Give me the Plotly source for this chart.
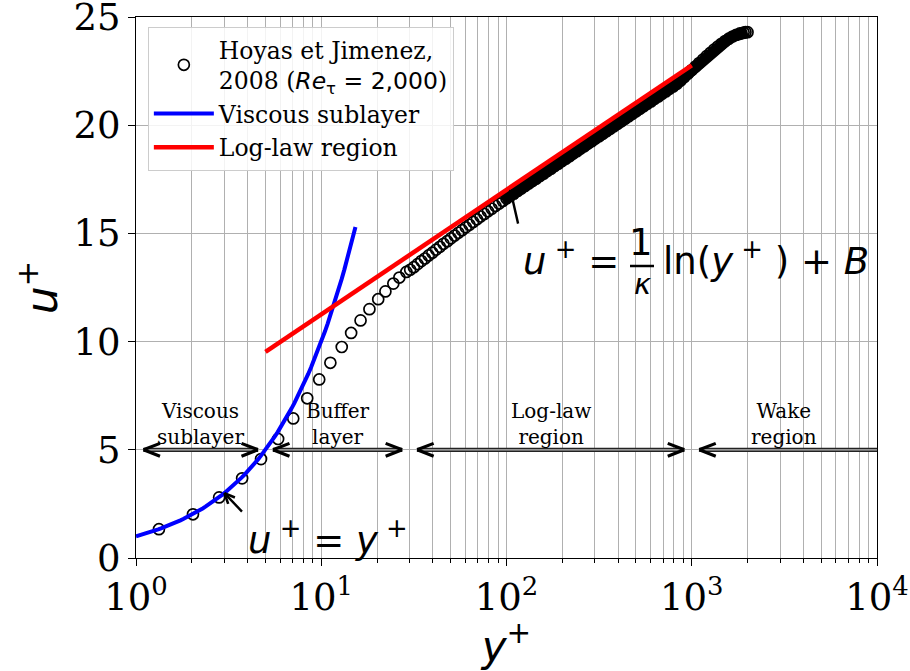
import numpy as np
import plotly.graph_objects as go

# ---------------- data ----------------
dns_yplus = [1.33, 2.03, 2.81, 3.74, 4.73, 5.85, 7.06, 8.40, 9.75, 11.2, 12.9, 14.5,
             16.3, 18.2, 20.3, 22.2, 24.5, 26.4, 28.8,
             30.2, 31.6, 33.1, 34.7, 36.3, 38.0, 39.8, 41.7, 43.7, 45.7, 47.9, 50.1,
             52.5, 55.0, 57.5, 60.3, 63.1, 66.1, 69.2, 72.4, 75.9, 79.4, 83.2,
             87.1, 91.2, 95.5, 100.0, 104.7, 109.6, 114.8, 120.2, 125.9, 131.8, 138.0,
             144.5, 151.4, 158.5, 166.0, 173.8, 182.0, 190.5, 199.5, 208.9, 218.8,
             229.1, 239.9, 251.2, 263.0, 275.4, 288.4, 302.0, 316.2, 331.1, 346.7,
             363.1, 380.2, 398.1, 416.9, 436.5, 457.1, 478.6, 501.2, 524.8, 549.5,
             575.4, 602.6, 631.0, 660.7, 691.8, 724.4, 758.6, 794.3,
             831.8, 871.0, 912.0, 955.0, 1000, 1047, 1096, 1148, 1202, 1259, 1318,
             1380, 1445, 1514, 1585, 1660, 1738, 1820, 1905, 1950, 2000]
dns_uplus = [1.33, 2.02, 2.80, 3.68, 4.57, 5.50, 6.45, 7.38, 8.25, 9.02, 9.75, 10.40,
             10.98, 11.50, 11.96, 12.32, 12.68, 12.96, 13.22,
             13.32, 13.44, 13.58, 13.72, 13.84, 13.98, 14.11, 14.25, 14.38, 14.52,
             14.64, 14.77, 14.90, 15.03, 15.15, 15.28, 15.40, 15.53, 15.65, 15.78,
             15.90, 16.02, 16.14,
             16.27, 16.38, 16.50, 16.61, 16.73, 16.84, 16.96, 17.07, 17.19, 17.30,
             17.42, 17.53, 17.65, 17.76, 17.88, 17.99, 18.11, 18.22, 18.34, 18.45,
             18.57, 18.69, 18.80, 18.92, 19.03, 19.15, 19.26, 19.38, 19.49, 19.61,
             19.72, 19.84, 19.95, 20.07, 20.18, 20.30, 20.41, 20.53, 20.64, 20.76,
             20.87, 20.99, 21.10, 21.22, 21.33, 21.45, 21.56, 21.68, 21.79,
             21.91, 22.07, 22.23, 22.39, 22.55, 22.71, 22.87, 23.03, 23.19, 23.34,
             23.49, 23.63, 23.76, 23.89, 24.00, 24.10, 24.18, 24.24, 24.28, 24.30, 24.30]

# wall laws
kappa = 0.4
B = 5.5
visc_range = [1.0, 15.3]
loglaw_range = [5.0, 1000.0]

# region boundaries and labels
region_bounds = [1, 5, 30, 1000, 10000]
region_labels = ["Viscous<br>sublayer", "Buffer<br>layer", "Log-law<br>region", "Wake<br>region"]
region_arrow_y = 5

xtick_vals = [1, 10, 100, 1000, 10000]
xtick_text = ["10<sup>0</sup>", "10<sup>1</sup>", "10<sup>2</sup>", "10<sup>3</sup>", "10<sup>4</sup>"]
xminor_vals = [k * 10 ** d for d in range(4) for k in range(2, 10)]
ytick_vals = [0, 5, 10, 15, 20, 25]

# where the DNS circles merge into a solid band
band_start = 95

# ---------------- derived curves ----------------
visc_y = np.logspace(np.log10(visc_range[0]), np.log10(visc_range[1]), 80)
visc_u = visc_y
log_y = np.logspace(np.log10(loglaw_range[0]), np.log10(loglaw_range[1]), 80)
log_u = np.log(log_y) / kappa + B
band_x = [y for y in dns_yplus if y >= band_start]
band_u = [u for y, u in zip(dns_yplus, dns_uplus) if y >= band_start]

# ---------------- layout geometry ----------------
W, H = 910, 671
ML, MR, MT, MB = 136, 33, 17, 113
PW, PH = W - ML - MR, H - MT - MB
PX_PER_DEC = PW / 4.0


def px2paper(px, py):
    return (px - ML) / PW, (H - MB - py) / PH


NB = "\u00a0"

fig = go.Figure()
fig.add_trace(go.Scatter(
    x=band_x, y=band_u, mode="lines", showlegend=False, hoverinfo="skip",
    line=dict(color="black", width=11.5),
))
fig.add_trace(go.Scatter(
    x=dns_yplus, y=dns_uplus, mode="markers",
    name="Hoyas et Jimenez,<br>2008 (<span style=\"font-family:DejaVu Sans\"><i>Re</i><sub>τ</sub> = 2,000</span>)",
    marker=dict(symbol="circle-open", size=11, color="black", line=dict(width=1.7, color="black")),
))
fig.add_trace(go.Scatter(x=visc_y, y=visc_u, mode="lines", name="Viscous sublayer",
                         line=dict(color="#0000ff", width=4)))
fig.add_trace(go.Scatter(x=log_y, y=log_u, mode="lines", name="Log-law region",
                         line=dict(color="#ff0000", width=4.5)))

annotations = []
shapes = []

# ---- region arrows ----
shrink = 7.5 / PX_PER_DEC
arm_dx, arm_dy = 18, 7


def chevron(xlog, y, pointing):
    # pointing = -1 : tip points left (arms go right)
    out = []
    for s in (-1, 1):
        out.append(dict(x=xlog, y=y, xref="x", yref="y", text="", showarrow=True,
                        arrowhead=0, arrowwidth=3.2, arrowcolor="black",
                        ax=-pointing * arm_dx, ay=s * arm_dy, axref="pixel", ayref="pixel"))
    return out


for i in range(4):
    a = np.log10(region_bounds[i]) + shrink
    b = np.log10(region_bounds[i + 1]) - shrink
    if i == 3:
        b = np.log10(region_bounds[i + 1])
    shapes.append(dict(type="line", xref="x", yref="y", x0=10 ** a, x1=10 ** b,
                       y0=region_arrow_y, y1=region_arrow_y,
                       line=dict(color="#222222", width=4.2), layer="above"))
    shapes.append(dict(type="line", xref="x", yref="y", x0=10 ** a, x1=10 ** b,
                       y0=region_arrow_y, y1=region_arrow_y,
                       line=dict(color="#bdbdbd", width=1.2), layer="above"))
    annotations += chevron(a, region_arrow_y, -1)
    if i < 3:
        annotations += chevron(b, region_arrow_y, 1)
    xm = 0.5 * (np.log10(region_bounds[i]) + np.log10(region_bounds[i + 1]))
    annotations.append(dict(x=xm, y=region_arrow_y, xref="x", yref="y", text=region_labels[i],
                            showarrow=False, yanchor="bottom", xanchor="center", yshift=-1,
                            font=dict(family="DejaVu Serif", size=20, color="black")))


# ---- pointer arrows for the formulas ----
def pointer(xdata, ydata, tail_dx, tail_dy, arm=13, ang=24):
    out = [dict(x=np.log10(xdata), y=ydata, xref="x", yref="y", text="", showarrow=True,
                arrowhead=0, arrowwidth=2.4, arrowcolor="black", ax=tail_dx, ay=tail_dy,
                axref="pixel", ayref="pixel")]
    L = np.hypot(tail_dx, tail_dy)
    ux, uy = tail_dx / L, tail_dy / L
    for s in (-1, 1):
        t = np.radians(s * ang)
        rx = ux * np.cos(t) - uy * np.sin(t)
        ry = ux * np.sin(t) + uy * np.cos(t)
        out.append(dict(x=np.log10(xdata), y=ydata, xref="x", yref="y", text="", showarrow=True,
                        arrowhead=0, arrowwidth=2.6, arrowcolor="black", ax=rx * arm, ay=ry * arm,
                        axref="pixel", ayref="pixel"))
    return out


annotations += pointer(3.0, 3.0, 19, 20)
annotations += pointer(105, 17.0, 8, 35)

mfont = dict(family="DejaVu Sans", size=37, color="black")
# u+ = y+
px, py = px2paper(246, 537)
annotations.append(dict(x=px, y=py, xref="paper", yref="paper", xanchor="left", yanchor="middle",
                        text="<i>u</i><sup>" + NB + "+</sup>" + NB + "=" + NB + "<i>y</i><sup>" + NB + "+</sup>",
                        showarrow=False, font=mfont))
# u+ = (1/kappa) ln(y+) + B
px, py = px2paper(521, 258)
annotations.append(dict(x=px, y=py, xref="paper", yref="paper", xanchor="left", yanchor="middle",
                        text="<i>u</i><sup>" + NB + "+</sup>" + NB + "=", showarrow=False, font=mfont))
px, py = px2paper(641, 242)
annotations.append(dict(x=px, y=py, xref="paper", yref="paper", xanchor="center", yanchor="middle",
                        text="1", showarrow=False, font=mfont))
px, py = px2paper(642, 284)
annotations.append(dict(x=px, y=py, xref="paper", yref="paper", xanchor="center", yanchor="middle",
                        text="<i>κ</i>", showarrow=False, font=dict(family="DejaVu Sans", size=29, color="black")))
x0p, yb = px2paper(630, 266)
x1p, _ = px2paper(654, 266)
shapes.append(dict(type="line", xref="paper", yref="paper", x0=x0p, x1=x1p, y0=yb, y1=yb,
                   line=dict(color="black", width=2.5), layer="above"))
px, py = px2paper(661, 258)
annotations.append(dict(x=px, y=py, xref="paper", yref="paper", xanchor="left", yanchor="middle",
                        text="ln(<i>y</i><sup>" + NB + "+</sup>" + NB + ")" + NB + "+" + NB + "<i>B</i>",
                        showarrow=False, font=mfont))

grid_c = "#b0b0b0"
tickfont = dict(family="DejaVu Serif", size=37, color="black")
fig.update_layout(
    width=W, height=H,
    margin=dict(l=ML, r=MR, t=MT, b=MB, autoexpand=False),
    paper_bgcolor="white", plot_bgcolor="white",
    showlegend=True,
    legend=dict(x=0.016, y=0.982, xanchor="left", yanchor="top",
                bgcolor="rgba(255,255,255,0.85)", bordercolor="#cccccc", borderwidth=1,
                font=dict(family="DejaVu Serif", size=23.5, color="black"),
                itemwidth=60),
    annotations=annotations,
    shapes=shapes,
    xaxis=dict(type="log", range=[0, 4], tickmode="array", tickvals=xtick_vals, ticktext=xtick_text,
               ticks="outside", ticklen=7, tickwidth=1, tickcolor="black",
               showline=True, linecolor="black", linewidth=1, mirror=True,
               showgrid=True, gridcolor=grid_c, gridwidth=1, zeroline=False,
               minor=dict(tickmode="array", tickvals=xminor_vals, ticks="outside", ticklen=4,
                          tickcolor="black", showgrid=True, gridcolor=grid_c, gridwidth=1),
               tickfont=tickfont, ticklabeloverflow="allow", automargin=False,
               title=dict(text="<i>y</i><sup>+</sup>", font=dict(family="DejaVu Sans", size=42, color="black"),
                          standoff=8)),
    yaxis=dict(range=[0, 25], tickmode="array", tickvals=ytick_vals,
               ticks="outside", ticklen=7, tickwidth=1, tickcolor="black",
               showline=True, linecolor="black", linewidth=1, mirror=True,
               showgrid=True, gridcolor=grid_c, gridwidth=1, zeroline=False,
               tickfont=tickfont, ticklabeloverflow="allow", automargin=False,
               title=dict(text="<i>u</i><sup>+</sup>", font=dict(family="DejaVu Sans", size=44, color="black"),
                          standoff=2)),
)

fig.write_html("out.html")
